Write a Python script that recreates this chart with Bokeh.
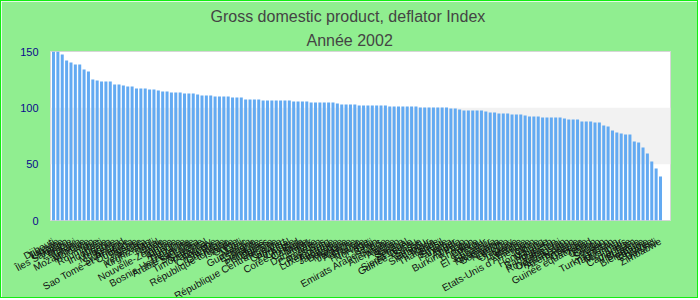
import math
from bokeh.plotting import figure
from bokeh.models import Range1d, FixedTicker, BoxAnnotation, Title, ColumnDataSource
from bokeh.embed import file_html
from bokeh.resources import INLINE

title_text = "Gross domestic product, deflator  Index"
subtitle_text = "Année 2002"

countries = [
    "Djibouti", "Turquie", "Ukraine", "Îles Salomon", "Zambie", "Malawi", "Ghana",
    "Mozambique", "Moldavie", "Iran", "Roumanie", "Haïti", "Indonésie", "Nigeria",
    "Mongolie", "Kenya", "Swaziland", "Sao Tomé-et-Principe", "Ouganda", "Russie",
    "Serbie", "Venezuela", "Kirghizistan", "Mali", "Népal", "Inde", "Nouvelle-Zélande",
    "Tunisie", "Albanie", "Hongrie", "Tanzanie", "Bosnie-Herzégovine", "Arabie saoudite",
    "Sri Lanka", "Slovénie", "Timor oriental", "Paraguay", "Pologne", "Costa Rica",
    "Colombie", "République tchèque", "Islande", "Grèce", "Chili", "Maroc", "Guatemala",
    "Espagne", "Irlande", "Honduras", "Philippines", "Gambie", "République Centrafricaine",
    "Croatie", "Cap-Vert", "Portugal", "Chypre", "Corée du Sud", "Canada", "Malte",
    "Danemark", "Italie", "Cameroun", "Pays-Bas", "Luxembourg", "Australie", "Jamaïque",
    "Belgique", "Mexique", "Jordanie", "Autriche", "France", "Finlande", "Norvège",
    "Fidji", "Bénin", "Emirats Arabes Unis", "Suède", "Allemagne", "Algérie", "Liban",
    "Samoa", "Sénégal", "Sierra Leone", "Guinée-Bissau", "Suisse", "Vanuatu", "Singapour",
    "Tonga", "Thaïlande", "Brésil", "Egypte", "Panama", "Niger", "Angola", "Burkina Faso",
    "Togo", "Bhoutan", "Bolivie", "Pérou", "El Salvador", "Equateur", "Nicaragua",
    "Botswana", "Namibie", "Lesotho", "Uruguay", "Lituanie", "Lettonie", "Estonie",
    "Etats-Unis d'Amérique", "Japon", "Chine", "Hong Kong", "Malaisie", "Bangladesh",
    "Pakistan", "Royaume-Uni", "Ouzbékistan", "Kazakhstan", "Azerbaïdjan", "Arménie",
    "Géorgie", "Guinée équatoriale", "Tchad", "Gabon", "Congo", "Soudan", "Yémen",
    "Turkménistan", "Tadjikistan", "Myanmar", "Laos", "Cambodge", "Viet Nam", "Bulgarie",
    "Biélorussie", "Ethiopie", "Erythrée", "Burundi", "Zimbabwe",
]

values = [
    150.0, 150.0, 147.3, 142.0, 140.2, 138.5, 138.5, 134.0, 132.2, 125.1,
    124.2, 123.4, 123.4, 123.4, 120.7, 120.7, 119.8, 118.9, 118.9, 117.2,
    117.2, 117.2, 116.3, 116.3, 115.4, 114.5, 114.5, 113.6, 113.6, 113.6,
    112.7, 112.7, 112.7, 111.8, 110.9,
    110.9, 110.9, 110.1, 110.1, 110.1, 110.1, 109.2, 109.2, 109.2, 107.4,
    107.4, 107.4, 107.4, 106.5, 106.5, 106.5, 106.5, 106.5, 106.5, 106.5,
    105.6, 105.6, 105.6, 105.6, 104.7, 104.7, 104.7, 104.7, 104.7, 104.7,
    103.8, 103.0, 103.0, 103.0, 103.0, 102.1,
    102.1, 102.1, 102.1, 102.1, 102.1, 102.1, 101.2, 101.2, 101.2, 101.2,
    101.2, 101.2, 101.2, 100.3, 100.3, 100.3, 100.3, 100.3, 100.3, 100.3,
    99.4, 99.4, 98.5, 97.6, 97.6, 97.6, 97.6, 97.6, 96.7, 95.9,
    95.9, 95.0, 95.0, 95.0, 94.1,
    94.1, 94.1, 93.2, 92.3, 92.3, 92.3, 91.4, 91.4, 91.4, 91.4,
    91.4, 90.5, 89.6, 89.6, 89.6, 87.9, 87.9, 87.9, 87.0, 87.0,
    84.3, 83.4, 79.9, 78.1, 77.2, 76.3, 76.3, 70.1, 69.2, 64.8,
    59.5, 52.4, 46.2, 39.1,
]

y_ticks = [0, 50, 100, 150]
band = (50, 100)

idx = list(range(len(countries)))
src = ColumnDataSource(dict(x=idx, top=values, name=countries))

p = figure(
    width=698, height=298, output_backend="svg", toolbar_location=None,
    x_range=Range1d(-0.69, len(countries) - 1 + 2.29),
    y_range=Range1d(0, 150),
    min_border_left=49, min_border_right=29, min_border_top=50, min_border_bottom=79,
    background_fill_color="white", border_fill_color="#90ee90",
    outline_line_color="#d6d6d6", outline_line_width=1,
)
p.styles = {"border": "1px solid #11ee11"}

p.add_layout(Title(text=subtitle_text, align="left", text_font_size="16px",
                   text_font_style="normal", text_color="#444444",
                   text_font="Liberation Sans", standoff=5, offset=256), "above")
p.add_layout(Title(text=title_text, align="left", text_font_size="16px",
                   text_font_style="normal", text_color="#444444",
                   text_font="Liberation Sans", standoff=5, offset=160), "above")

p.add_layout(BoxAnnotation(bottom=band[0], top=band[1], fill_color="#f2f2f2",
                           fill_alpha=1.0, line_color=None, level="underlay"))

p.vbar(x="x", top="top", width=0.69, source=src, fill_color="#63aaf2", line_color=None)

p.xgrid.visible = False
p.ygrid.visible = False

p.yaxis.ticker = FixedTicker(ticks=y_ticks)
p.yaxis.axis_line_color = None
p.yaxis.major_tick_line_color = None
p.yaxis.minor_tick_line_color = None
p.yaxis.major_tick_out = 0
p.yaxis.major_label_standoff = 12
p.yaxis.major_label_text_color = "#0a0a8c"
p.yaxis.major_label_text_font = "Liberation Sans"
p.yaxis.major_label_text_font_size = "11px"

p.xaxis.ticker = FixedTicker(ticks=idx)
p.xaxis.major_label_overrides = {i: c for i, c in enumerate(countries)}
p.xaxis.major_label_orientation = math.radians(29)
p.xaxis.axis_line_color = None
p.xaxis.major_tick_line_color = None
p.xaxis.minor_tick_line_color = None
p.xaxis.major_tick_out = 0
p.xaxis.major_tick_in = 0
p.xaxis.major_label_standoff = 20
p.xaxis.major_label_text_color = "#111111"
p.xaxis.major_label_text_font = "Liberation Sans"
p.xaxis.major_label_text_font_size = "10px"
p.xaxis.axis_label = " "
p.xaxis.axis_label_text_font_size = "1px"
p.xaxis.axis_label_standoff = -15

open("out.html", "w").write(file_html(p, INLINE))
